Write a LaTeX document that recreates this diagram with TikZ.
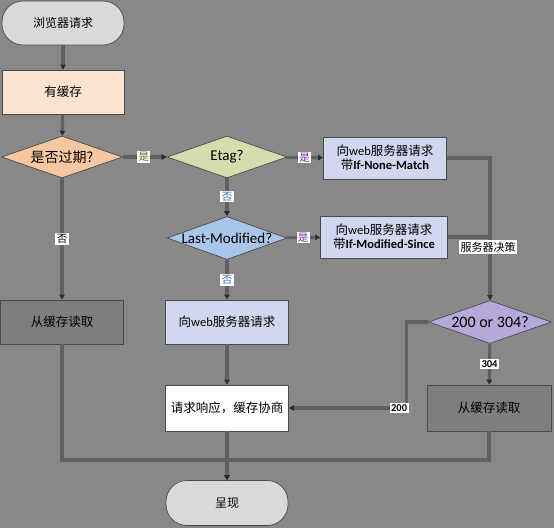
\documentclass[tikz,border=0pt]{standalone}
\usepackage{fontspec}
\setmainfont{Carlito}
\newfontfamily\cjk{Noto Sans CJK SC}
\usetikzlibrary{shapes.geometric,arrows.meta}
\definecolor{bgc}{HTML}{888888}
\definecolor{edgec}{HTML}{4A4A4A}
\definecolor{linec}{HTML}{606060}
\definecolor{tipc}{HTML}{2E2E2E}
\definecolor{pillc}{HTML}{D9D9D9}
\definecolor{cachec}{HTML}{FCE3CF}
\definecolor{expc}{HTML}{F7C8A0}
\definecolor{etagc}{HTML}{D5DDAE}
\definecolor{lmc}{HTML}{A9C6E8}
\definecolor{webc}{HTML}{D2D7F0}
\definecolor{decc}{HTML}{B5A9D9}
\definecolor{readc}{HTML}{7E7E7E}
\definecolor{yesg}{HTML}{5A6A2A}
\definecolor{yesp}{HTML}{7030A0}
\definecolor{nob}{HTML}{2E75B6}
\tikzset{
  base/.style={draw=edgec, line width=0.7pt, inner sep=0pt, align=center},
  pill/.style={base, rectangle, rounded corners=21pt, minimum width=122pt, minimum height=44pt, fill=pillc, font=\cjk\fontsize{12}{14}\selectfont},
  box/.style={base, rectangle, minimum width=123pt, minimum height=44pt, font=\fontsize{12.5}{15}\selectfont},
  dia/.style={base, diamond, minimum width=122pt, minimum height=42pt, font=\fontsize{15}{17}\selectfont},
  conn/.style={draw=linec, line width=3.2pt},
  arr/.style={conn, -{Triangle[length=5pt,width=5.5pt,color=tipc]}},
  lab/.style={fill=white, inner sep=1.3pt, font=\cjk\fontsize{10.5}{12}\selectfont},
  numlab/.style={fill=white, inner sep=1.5pt, font=\bfseries\fontsize{10.5}{12}\selectfont}
}
\begin{document}
\begin{tikzpicture}[x=1pt,y=-1pt]
\fill[bgc] (0,0) rectangle (554,528);
\useasboundingbox (0,0) rectangle (554,528);
% nodes
\node[pill] (start) at (63,23) {浏览器请求};
\node[box, fill=cachec, minimum width=122pt] (cache) at (63,92) {\cjk 有缓存};
\node[dia, fill=expc, minimum width=121pt] (exp) at (62,157) {\makebox[0pt]{\cjk\fontsize{14}{16}\selectfont 是否过期?}};
\node[dia, fill=etagc, minimum width=120pt] (etag) at (227,157) {\makebox[0pt]{Etag?}};
\node[box, fill=webc, minimum height=42pt] (inm) at (385,158) {{\cjk 向}web{\cjk 服务器请求}\\[-1pt]{\cjk 带}\textbf{If-None-Match}};
\node[dia, fill=lmc, minimum width=120pt, minimum height=43pt] (lm) at (227,238) {\makebox[0pt]{Last-Modified?}};
\node[box, fill=webc, minimum width=127pt, minimum height=42pt] (ims) at (384,237) {{\cjk 向}web{\cjk 服务器请求}\\[-1pt]{\cjk 带}\textbf{If-Modified-Since}};
\node[box, fill=readc] (readL) at (62,322) {\cjk 从缓存读取};
\node[box, fill=webc] (req) at (227,322) {{\cjk 向}web{\cjk 服务器请求}};
\node[dia, fill=decc, minimum width=123pt, minimum height=43pt] (dec) at (490,322) {\makebox[0pt]{\fontsize{16}{18}\selectfont 200 or 304?}};
\node[box, fill=white, minimum height=46pt] (resp) at (227,408) {\cjk 请求响应，缓存协商};
\node[box, fill=readc, minimum width=124pt, minimum height=46pt] (readR) at (489,408) {\cjk 从缓存读取};
\node[pill, minimum height=45pt] (show) at (227,503) {呈现};
\coordinate (m) at (227,460);
% connectors
\draw[arr] (start) -- (cache);
\draw[arr] (cache) -- (exp);
\draw[arr] (exp) -- node[lab, text=yesg, pos=0.48] {是} (etag);
\draw[arr] (exp) -- node[lab, text=black, pos=0.5] {否} (readL);
\draw[arr] (etag) -- node[lab, text=yesp, pos=0.5] {是} (inm);
\draw[arr] (etag) -- node[lab, text=nob, pos=0.48] {否} (lm);
\draw[arr] (lm) -- node[lab, text=yesp, pos=0.5] {是} (ims);
\draw[arr] (lm) -- node[lab, text=nob, pos=0.5] {否} (req);
\draw[arr] (inm.east) -| (dec.north);
\draw[conn] (ims.east) -- (ims.east -| dec.north);
\node[lab, text=black, font=\cjk\fontsize{11}{13}\selectfont, inner sep=1.5pt] (srv) at (488,247) {服务器决策};
\draw[arr] (req) -- (resp);
\draw[arr] (dec.west) -- ++(-22,0) |- node[numlab, pos=0.53] {200} (resp.east);
\draw[arr] (dec) -- node[numlab, pos=0.5] {304} (readR);
\draw[arr] (readL.south) |- (m) -- (show.north);
\draw[conn] (readR.south) |- (m);
\draw[arr] (resp) -- (show);
\end{tikzpicture}
\end{document}
